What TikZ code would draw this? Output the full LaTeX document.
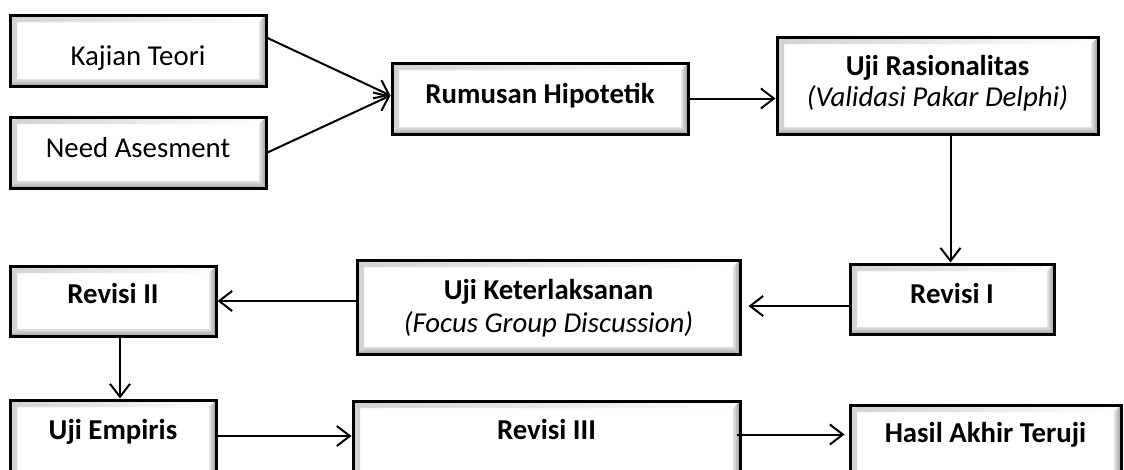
\documentclass[tikz,border=0pt]{standalone}
\usepackage{fontspec}
\setmainfont{Carlito}
\usetikzlibrary{arrows.meta,calc}
\tikzset{
  box/.style={rectangle, draw=black, line width=3pt, fill=white, inner sep=0pt,
    font=\fontsize{28.8pt}{31pt}\selectfont,
    path picture={
      \path let \p1=(path picture bounding box.south west),
                \p2=(path picture bounding box.north east) in
        [fill=gray!12] (\x1,\y2) -- (\x2,\y2) -- (\x2-7pt,\y2-7pt) -- (\x1+7pt,\y2-7pt) -- cycle
        [left color=gray!35, right color=white] (\x1,\y1) -- (\x1,\y2) -- (\x1+7pt,\y2-7pt) -- (\x1+7pt,\y1+7pt) -- cycle;
      \path let \p1=(path picture bounding box.south west),
                \p2=(path picture bounding box.north east) in
        [left color=white!80!gray, right color=gray!80] (\x2,\y2) -- (\x2,\y1) -- (\x2-7pt,\y1+7pt) -- (\x2-7pt,\y2-7pt) -- cycle;
      \path let \p1=(path picture bounding box.south west),
                \p2=(path picture bounding box.north east) in
        [top color=gray!25, bottom color=gray!75] (\x1,\y1) -- (\x2,\y1) -- (\x2-7pt,\y1+7pt) -- (\x1+7pt,\y1+7pt) -- cycle;
    }},
  drop/.code={\pgfmathsetmacro\myth{20+#1}\pgfmathsetmacro\mytd{20-#1}%
    \edef\mytmp{\noexpand\tikzset{text height=\myth pt,text depth=\mytd pt}}\mytmp},
  bold/.style={font=\fontsize{28.8pt}{31pt}\selectfont\bfseries},
  conn/.style={line width=2pt, -{Straight Barb[length=13pt,width=20pt]}}
}
\begin{document}
\begin{tikzpicture}[x=1pt,y=-1pt]
\useasboundingbox (0,0) rectangle (1124,469);
\clip (0,0) rectangle (1124,469);
% row 1
\node[box, minimum width=256pt, minimum height=71pt, drop=14.5] (kajian) at (138,50.5) {Kajian Teori};
\node[box, minimum width=256pt, minimum height=71pt, drop=4.5] (need) at (138,152.5) {Need Asesment};
\node[box, bold, minimum width=296pt, minimum height=71pt, drop=5] (rumusan) at (540,98.5) {Rumusan Hipotetik};
\node[box, minimum width=321pt, minimum height=97pt, align=center, text height=50.5pt, text depth=9.5pt] (rasio) at (937.5,85.5) {\textbf{Uji Rasionalitas}\\\textit{(Validasi Pakar Delphi)}};
% row 2
\node[box, bold, minimum width=204pt, minimum height=70pt, drop=4] (revisi1) at (952,299) {Revisi I};
\node[box, minimum width=383pt, minimum height=94pt, align=center, text height=55pt, text depth=5pt] (keter) at (548.5,307) {\textbf{Uji Keterlaksanan}\\[2pt]\textit{(Focus Group Discussion)}};
\node[box, bold, minimum width=206pt, minimum height=70pt, drop=2] (revisi2) at (113,301) {Revisi II};
% row 3
\node[box, bold, minimum width=206pt, minimum height=80pt, drop=-1] (empiris) at (113,440) {Uji Empiris};
\node[box, bold, minimum width=387pt, minimum height=79pt, drop=-1.5] (revisi3) at (546.5,440.5) {Revisi III};
\node[box, bold, minimum width=271pt, minimum height=75pt, drop=-0.5] (hasil) at (985.5,442.5) {Hasil Akhir Teruji};
% connectors
\draw[conn] ([yshift=12.5pt]kajian.east) -- ([yshift=3pt]rumusan.west);
\draw[conn] (need.east) -- ([yshift=3pt]rumusan.west);
\draw[conn] (rumusan.east) -- (rumusan.east -| rasio.west);
\draw[conn] ([xshift=13pt]rasio.south) -- ([xshift=13pt]rasio.south |- revisi1.north);
\draw[conn] ([yshift=-7pt]revisi1.west) -- ([xshift=7pt,yshift=-7pt]revisi1.west -| keter.east);
\draw[conn] (keter.west |- revisi2.east) -- (revisi2.east);
\draw[conn] ([xshift=7pt]revisi2.south) -- ([xshift=7pt]empiris.north);
\draw[conn] ([yshift=4pt]empiris.east) -- ([yshift=4pt]empiris.east -| revisi3.west);
\draw[conn] ([xshift=-5pt,yshift=6pt]revisi3.east) -- ([xshift=-4pt,yshift=6pt]revisi3.east -| hasil.west);
\end{tikzpicture}
\end{document}
